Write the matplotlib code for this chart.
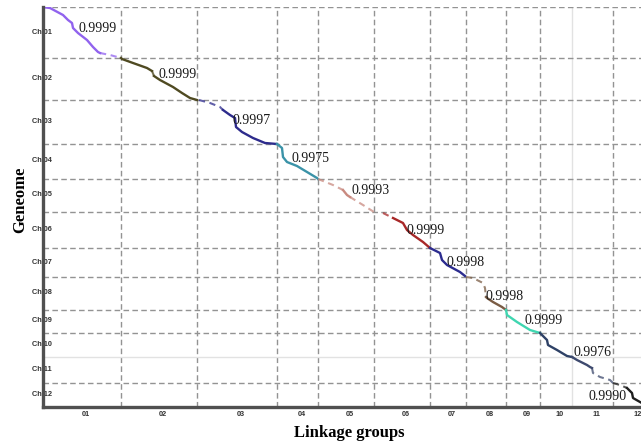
import matplotlib
matplotlib.use("Agg")
import matplotlib.pyplot as plt

# ---------------- data ----------------
linkage_groups = ["01", "02", "03", "04", "05", "06", "07", "08", "09", "10", "11", "12"]
chromosomes = ["Ch 01", "Ch 02", "Ch 03", "Ch 04", "Ch 05", "Ch 06",
               "Ch 07", "Ch 08", "Ch 09", "Ch 10", "Ch 11", "Ch 12"]
lg_lengths = [78, 76, 80, 41, 56, 56, 36, 40, 34, 32, 41, 42]      # genetic length of each LG
ch_lengths = [51, 42, 44, 35, 33, 36, 29, 33, 23, 24, 26, 24]      # physical length of each chromosome
correlations = ["0.9999", "0.9999", "0.9997", "0.9975", "0.9993", "0.9999",
                "0.9998", "0.9998", "0.9999", "0.9976", None, "0.9990"]

# marker positions: genetic (within LG) and physical (within chromosome)
ch01_cm = [0, 7, 20, 25, 29, 30, 35, 44, 50, 55, 57, 67, 78]
ch01_mb = [0, 1, 8, 13, 16, 21, 26, 33, 40, 45, 46, 48, 51]
ch02_cm = [0, 1, 12, 26, 31, 33, 39, 52, 61, 69, 76]
ch02_mb = [0, 1, 5, 10, 13, 18, 22, 29, 35, 40, 42]
ch03_cm = [2, 13, 23, 26, 33, 38, 39, 45, 56, 68, 80]
ch03_mb = [0, 3, 7, 10, 15, 18, 27, 32, 38, 43, 44]
ch04_cm = [0, 5, 6, 10, 20, 30, 40, 41]
ch04_mb = [0, 4, 13, 18, 22, 28, 34, 35]
ch05_cm = [0, 15, 25, 29, 32, 45, 56]
ch05_mb = [0, 6, 11, 16, 18, 26, 33]
ch06_cm = [9, 19, 29, 33, 39, 49, 56]
ch06_mb = [1, 6, 11, 18, 23, 30, 36]
ch07_cm = [0, 10, 12, 17, 30, 35]
ch07_mb = [0, 5, 12, 17, 24, 28]
ch08_cm = [0, 7, 17, 19, 20, 21, 27, 36, 40]
ch08_mb = [0, 1, 6, 11, 20, 21, 25, 30, 33]
ch09_cm = [0, 1, 11, 24, 34]
ch09_mb = [0, 5, 12, 20, 23]
ch10_cm = [0, 7, 8, 17, 27, 32]
ch10_mb = [0, 7, 12, 17, 23, 24]
ch11_cm = [0, 5, 15, 18, 20, 21, 28, 38, 41]
ch11_mb = [0, 3, 8, 10, 11, 16, 20, 23, 26]
ch12_cm = [0, 7, 14, 19, 20, 27, 34, 42]
ch12_mb = [0, 2, 5, 10, 15, 19, 23, 24]

# marker-poor stretches (index ranges) drawn as broken lines
ch_sparse = [[(10, 12)], [(4, 5)], [(0, 3)], [], [(0, 2), (4, 6)], [(0, 1)],
             [], [(0, 4)], [], [], [(4, 8)], [(0, 2)]]

all_cm = [ch01_cm, ch02_cm, ch03_cm, ch04_cm, ch05_cm, ch06_cm,
          ch07_cm, ch08_cm, ch09_cm, ch10_cm, ch11_cm, ch12_cm]
all_mb = [ch01_mb, ch02_mb, ch03_mb, ch04_mb, ch05_mb, ch06_mb,
          ch07_mb, ch08_mb, ch09_mb, ch10_mb, ch11_mb, ch12_mb]

# ---------------- style ----------------
colors = ["#9163ee", "#4f4a22", "#2d2b8c", "#3b93a8", "#c98a80", "#a82828",
          "#2c2c8f", "#7a5c44", "#3fd6b0", "#2e4166", "#3e4a6e", "#1e1e1e"]
# label anchors (offset inside each block)
label_offsets = [(55, 21), (57, 17), (55, 20), (34, 14), (53, 12), (52, 18),
                 (36, 15), (39, 19), (38, 11), (52, 19), None, (-5, 13)]
faint_x = [10]   # LG boundaries drawn as faint solid lines (index of boundary)
faint_y = [10]

W, H = 641, 443
fig = plt.figure(figsize=(W / 100, H / 100), dpi=100)
ax = fig.add_axes([43 / W, (H - 407) / H, (655 - 43) / W, 400 / H])

x_start = [sum(lg_lengths[:i]) for i in range(len(lg_lengths) + 1)]
y_start = [sum(ch_lengths[:i]) for i in range(len(ch_lengths) + 1)]
xmax, ymax = x_start[-1], y_start[-1]

grid_color = "#939393"
dash = (0, (4, 2.4))
for i in range(1, len(x_start) - 1):
    if i in faint_x:
        ax.axvline(x_start[i], color="#e2e2e2", lw=1.0, zorder=0.6)
    else:
        ax.axvline(x_start[i], color=grid_color, lw=1.0, ls=dash, zorder=0.6)
for i in range(0, len(y_start) - 1):
    if i in faint_y:
        ax.axhline(y_start[i], color="#e2e2e2", lw=1.0, zorder=0.6)
    else:
        ax.axhline(y_start[i], color=grid_color, lw=1.0, ls=dash, zorder=0.6)

for k in range(12):
    xs = [x_start[k] + v for v in all_cm[k]]
    ys = [y_start[k] + v for v in all_mb[k]]
    sparse_idx = set()
    for a, b in ch_sparse[k]:
        sparse_idx.update(range(a, b))
    n = len(xs)
    i = 0
    while i < n - 1:
        sp = i in sparse_idx
        j = i
        while j < n - 1 and ((j in sparse_idx) == sp):
            j += 1
        seg_x, seg_y = xs[i:j + 1], ys[i:j + 1]
        if sp:
            ax.plot(seg_x, seg_y, color=colors[k], lw=1.5, ls=(0, (3, 2.2)),
                    alpha=0.75, solid_capstyle="butt", zorder=2)
        else:
            ax.plot(seg_x, seg_y, color=colors[k], lw=1.7, zorder=2,
                    solid_joinstyle="round")
        i = j
    if correlations[k] is not None:
        ox, oy = label_offsets[k]
        ax.text(x_start[k] + ox, y_start[k] + oy, correlations[k],
                family="Liberation Serif", fontsize=10, color="#1a1a1a",
                ha="center", va="center", zorder=3)

ax.set_xlim(0, xmax)
ax.set_ylim(ymax, 0)

for s in ["top", "right"]:
    ax.spines[s].set_visible(False)
for s in ["left", "bottom"]:
    ax.spines[s].set_linewidth(2.4)
    ax.spines[s].set_color("#505050")

ax.set_yticks([(y_start[i] + y_start[i + 1]) / 2 - 1.5 for i in range(12)])
ax.set_yticklabels(chromosomes, family="Liberation Sans", fontweight="bold",
                   fontsize=5.3, color="#333333")
for t in ax.get_yticklabels():
    t.set_horizontalalignment("center")
ax.tick_params(axis="y", length=0, pad=1)

ax.set_xticks([(x_start[i] + x_start[i + 1]) / 2 for i in range(12)])
ax.set_xticklabels(linkage_groups, family="Liberation Sans", fontweight="bold",
                   fontsize=5.3, color="#333333")
for t in ax.get_xticklabels():
    t.set_horizontalalignment("left")
ax.tick_params(axis="x", length=0, pad=3)

fig.text(349 / W, 1 - 433 / H, "Linkage groups", family="Liberation Serif",
         fontweight="bold", fontsize=12, ha="center", va="center")
fig.text(20 / W, 1 - 200 / H, "Geneome", family="Liberation Serif",
         fontweight="bold", fontsize=12, ha="center", va="center", rotation=90)

fig.savefig("out.png", dpi=100)
